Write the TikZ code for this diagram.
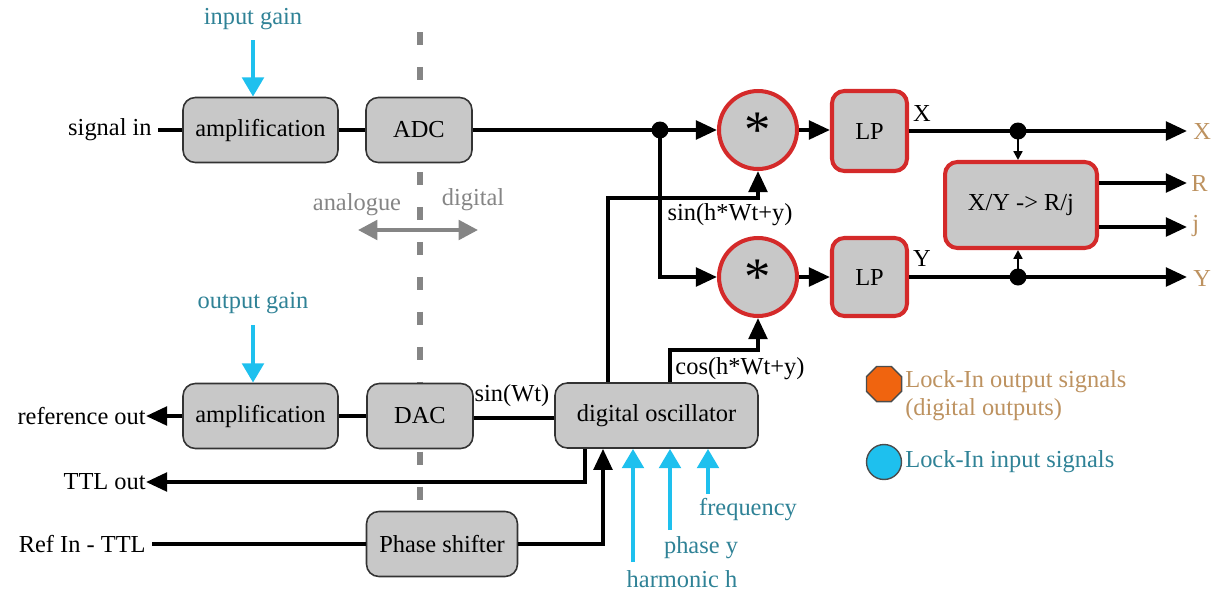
\documentclass[tikz,border=0pt]{standalone}
\usepackage{fontspec}
\setmainfont{Liberation Serif}
\usetikzlibrary{arrows.meta,shapes.geometric}
\definecolor{boxgray}{HTML}{C8C8C8}
\definecolor{redb}{HTML}{D42A2A}
\definecolor{cyanarr}{HTML}{1EC0EE}
\definecolor{tealtxt}{HTML}{2F8296}
\definecolor{tantxt}{HTML}{BD9260}
\definecolor{dashgray}{HTML}{858585}
\definecolor{legor}{HTML}{F0640F}
\begin{document}
\begin{tikzpicture}[x=0.02cm,y=-0.02cm,
  font=\fontsize{13.9pt}{16pt}\selectfont,
  blk/.style={draw=black!80, line width=0.9pt, fill=boxgray, rounded corners=7pt,
     minimum height=1.3cm, inner sep=0pt},
  redblk/.style={draw=redb, line width=2.3pt, fill=boxgray, rounded corners=7pt, inner sep=0pt},
  mult/.style={circle, draw=redb, line width=2.3pt, fill=boxgray, minimum size=1.56cm, inner sep=0pt},
  wire/.style={line width=2.3pt},
  arr/.style={line width=2.3pt, -{Triangle[length=12pt,width=10.5pt]}},
  smallarr/.style={line width=1.3pt, -{Triangle[length=5pt,width=5pt]}},
  cyarr/.style={draw=cyanarr, line width=2.8pt, -{Triangle[length=11pt,width=12pt]}},
  dot/.style={circle, fill=black, minimum size=0.34cm, inner sep=0pt},
  lbl/.style={inner sep=0pt},
  inlbl/.style={inner sep=0pt, text=tealtxt},
  outlbl/.style={inner sep=0pt, text=tantxt, anchor=west},
]
\useasboundingbox (0,0) rectangle (1215,596);

% analogue / digital divider
\draw[dashgray, line width=3.4pt, dash pattern=on 7.4pt off 12.5pt] (420,32) -- (420,503);
\node[lbl, text=dashgray] (ana) at (357,205) {analogue};
\node[lbl, text=dashgray] (dig) at (473,200) {digital};
\coordinate (adl) at (358,230);
\coordinate (adr) at (478,230);
\draw[dashgray, line width=2.3pt, {Triangle[length=11pt,width=11pt]}-{Triangle[length=11pt,width=11pt]}] (adl) -- (adr);

% blocks
\node[blk, minimum width=3.1cm] (amp1) at (260.5,130) {amplification};
\node[blk, minimum width=2.12cm] (adc) at (419,130) {ADC};
\node[blk, minimum width=3.1cm] (amp2) at (260.5,416) {amplification};
\node[blk, minimum width=2.12cm] (dac) at (420,416) {DAC};
\node[blk, minimum width=4.06cm] (osc) at (656.5,415.5) {digital oscillator};
\node[blk, minimum width=3.02cm] (phase) at (442,544) {Phase shifter};
\node[mult] (m1) at (758,130) {};
\node[mult] (m2) at (758,277) {};
\node[lbl] at (m1.center) {\fontsize{30pt}{30pt}\selectfont\raisebox{-0.14em}{*}};
\node[lbl] at (m2.center) {\fontsize{30pt}{30pt}\selectfont\raisebox{-0.14em}{*}};
\node[redblk, minimum width=1.5cm, minimum height=1.6cm] (lp1) at (869.5,131) {LP};
\node[redblk, minimum width=1.5cm, minimum height=1.56cm] (lp2) at (869.5,277) {LP};
\node[redblk, minimum width=3.04cm, minimum height=1.72cm] (xy) at (1021,205) {X/Y -> R/j};

% left labels
\node[lbl, anchor=east] (sigin) at (152,130) {signal in};
\node[lbl, anchor=east] (refout) at (146,416) {reference out};
\node[lbl, anchor=east] (ttlout) at (146,482) {TTL out};
\node[lbl, anchor=east] (refin) at (146,544) {Ref In - TTL};

% input gains
\node[inlbl] (ing) at (253,19) {input gain};
\node[inlbl] (outg) at (253,303) {output gain};
\draw[cyarr] (253,40) -- (amp1.north -| 253,0);
\draw[cyarr] (253,325) -- (amp2.north -| 253,0);

% signal path
\draw[wire] (sigin.east) ++(6,0) -- (amp1.west);
\draw[wire] (amp1.east) -- (adc.west);
\coordinate (j1) at (660,130);
\draw[arr] (adc.east) -- (m1.west);
\draw[arr] (j1) |- (m2.west);
\node[dot] at (j1) {};
\draw[arr] (m1.east) -- (m1.east -| lp1.west);
\draw[arr] (m2.east) -- (lp2.west);

% reference signals to multipliers
\coordinate (c1) at (608,198);
\coordinate (c2) at (670,350);
\draw[arr] (osc.north -| c1) -- (c1) -| (m1.south);
\draw[arr] (osc.north -| c2) -- (c2) -| (m2.south);
\node[lbl] (sinl) at (730,215) {sin(h*Wt+y)};
\node[lbl] (cosl) at (740,369) {cos(h*Wt+y)};

% outputs
\coordinate (xo) at (1187,131);
\coordinate (ro) at (1187,183);
\coordinate (jo) at (1187,227);
\coordinate (yo) at (1187,277);
\coordinate (jx) at (1018,131);
\coordinate (jy) at (1018,277);
\draw[arr] (lp1.east) -- (xo);
\draw[arr] (lp2.east) -- (yo);
\draw[arr] (xy.east |- ro) -- (ro);
\draw[arr] (xy.east |- jo) -- (jo);
\draw[smallarr] (jx) -- (xy.north -| jx);
\draw[smallarr] (jy) -- (xy.south -| jy);
\node[dot] at (jx) {};
\node[dot] at (jy) {};
\node[lbl] (xl) at (922,113) {X};
\node[lbl] (yl) at (922,258) {Y};
\node[outlbl] (xol) at (1193,131) {X};
\node[outlbl] (rol) at (1191,183) {R};
\node[outlbl] (jol) at (1192,226) {j};
\node[outlbl] (yol) at (1193,278) {Y};

% lower path
\draw[wire] (dac.east |- 0,418) -- (osc.west |- 0,418);
\node[lbl] (sinw) at (512,396) {sin(Wt)};
\draw[wire] (amp2.east) -- (dac.west);
\draw[arr] (amp2.west) -- (refout.east);
\coordinate (t1) at (585,482);
\draw[arr] (osc.south -| t1) |- (ttlout.east);
\draw[wire] (refin.east) ++(6,0) -- (phase.west);
\coordinate (p1) at (603,544);
\draw[arr] (phase.east) -- (p1) -- (osc.south -| p1);

% oscillator parameters
\node[inlbl] (harm) at (682,579) {harmonic h};
\node[inlbl] (phy) at (701,548) {phase y};
\node[inlbl] (freq) at (748,510) {frequency};
\draw[cyarr] (633,562) -- (osc.south -| 633,0);
\draw[cyarr] (670,530) -- (osc.south -| 670,0);
\draw[cyarr] (708,494) -- (osc.south -| 708,0);

% legend
\node[regular polygon, regular polygon sides=8, fill=legor, draw=black!70, line width=0.8pt,
      minimum size=0.76cm, inner sep=0pt] (lego) at (884,384) {};
\node[circle, fill=cyanarr, draw=black!70, line width=0.8pt, minimum size=0.7cm, inner sep=0pt]
      (legi) at (884,462) {};
\node[outlbl, align=left] (legot) at (905,396) {Lock-In output signals\\(digital outputs)};
\node[inlbl, anchor=west] (legit) at (905,462) {Lock-In input signals};
\end{tikzpicture}
\end{document}
